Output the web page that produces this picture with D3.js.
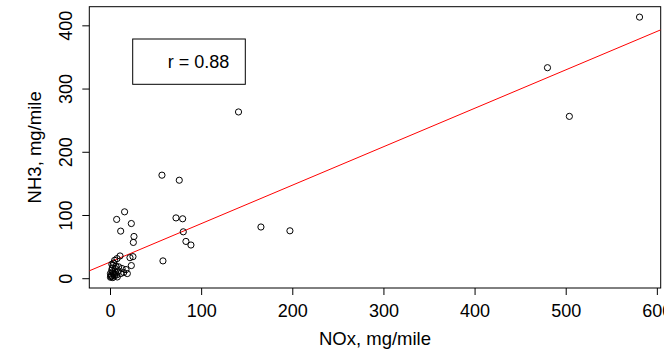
<!DOCTYPE html>
<html>
<head>
<meta charset="utf-8">
<script src="https://cdn.jsdelivr.net/npm/d3@7"></script>
<style>
  body { margin: 0; background: #fff; }
  text { font-family: "Liberation Sans", Arial, sans-serif; fill: #000; }
</style>
</head>
<body>
<div id="chart"></div>
<script>
// NOx vs NH3 (mg/mile)
var noxValues = [581, 480, 504, 141, 57, 76,
    16, 7.3, 23.4, 11.7, 26.3, 25.6,
    72.4, 79.7, 80.4, 83.3, 88.8,
    165.6, 197.4, 58.1,
    21.9, 25.2, 11, 7.7, 5.1, 23.4, 17.5, 13.2, 9.5, 15, 19, 11.7,
    3.3, 5.8, 1.9, 3.7, 2, 7.4, 9.2, 1.2, 4.8, 0.5, 3, 6, 2.5, 4, 1, 6.5, 8, 0.5, 3, 5, 2];
var nh3Values = [413, 333, 256, 263, 163, 155,
    105, 93, 86.5, 74.5, 66, 56.6,
    95.4, 94, 73.4, 58.2, 52.5,
    81, 75, 27.4,
    32.5, 34.1, 35.2, 31, 28.3, 20, 13.7, 15.3, 18, 9, 7.4, 7.4,
    20.4, 15.2, 12.6, 7.4, 3.7, 5.3, 11.6, 2.5, 3.5, 7.4, 10, 9, 16, 24, 5, 19, 2, 1.5, 1, 6, 22];
var xTicks = [0, 100, 200, 300, 400, 500, 600];
var yTicks = [0, 100, 200, 300, 400];
// fitted line
var fitIntercept = 25.5;
var fitSlope = 0.608;
var rLabel = "r = 0.88";

var width = 664, height = 352;
var margin = {left: 89.3, right: 3.3, top: 6.7, bottom: 64};

var svg = d3.select("#chart").append("svg")
    .attr("width", width)
    .attr("height", height);

svg.append("rect").attr("width", width).attr("height", height).attr("fill", "#fff");

// R style 4% padding round the data range
function padded(vals) {
    var ext = d3.extent(vals);
    var e = (ext[1] - ext[0]) * 0.04;
    return [ext[0] - e, ext[1] + e];
}

var x = d3.scaleLinear().domain(padded(noxValues)).range([margin.left, width - margin.right]);
var y = d3.scaleLinear().domain(padded(nh3Values)).range([height - margin.bottom, margin.top]);

svg.append("clipPath").attr("id", "plotClip")
    .append("rect")
    .attr("x", margin.left).attr("y", margin.top)
    .attr("width", width - margin.right - margin.left)
    .attr("height", height - margin.bottom - margin.top);

// axes
var xAxis = svg.append("g")
    .attr("transform", "translate(0," + (height - margin.bottom) + ")")
    .call(d3.axisBottom(x).tickValues(xTicks).tickSize(7).tickPadding(6).tickFormat(d3.format("d")));
var yAxis = svg.append("g")
    .attr("transform", "translate(" + margin.left + ",0)")
    .call(d3.axisLeft(y).tickValues(yTicks).tickSize(7).tickFormat(d3.format("d")));

xAxis.select(".domain").remove();
yAxis.select(".domain").remove();
xAxis.selectAll("text").attr("font-size", 18).attr("dy", null).attr("y", 28.5)
    .style("font-family", "Liberation Sans, Arial, sans-serif");
yAxis.selectAll("text")
    .attr("font-size", 18)
    .attr("x", null).attr("dy", null)
    .attr("text-anchor", "middle")
    .attr("transform", "translate(-17.6,0) rotate(-90)")
    .style("font-family", "Liberation Sans, Arial, sans-serif");
svg.selectAll(".tick line").attr("stroke", "#000");

// box
svg.append("rect")
    .attr("x", margin.left).attr("y", margin.top)
    .attr("width", width - margin.right - margin.left)
    .attr("height", height - margin.bottom - margin.top)
    .attr("fill", "none").attr("stroke", "#000").attr("stroke-width", 1);

// regression line
var xd = x.domain();
svg.append("line")
    .attr("clip-path", "url(#plotClip)")
    .attr("x1", x(xd[0])).attr("y1", y(fitIntercept + fitSlope * xd[0]))
    .attr("x2", x(xd[1])).attr("y2", y(fitIntercept + fitSlope * xd[1]))
    .attr("stroke", "#ff0000").attr("stroke-width", 1);

// points
var pts = noxValues.map(function (d, i) { return {nox: d, nh3: nh3Values[i]}; });
svg.selectAll(".pt")
    .data(pts)
    .enter().append("circle")
    .attr("class", "pt")
    .attr("cx", function (d) { return x(d.nox); })
    .attr("cy", function (d) { return y(d.nh3); })
    .attr("r", 3.1)
    .attr("fill", "none")
    .attr("stroke", "#000")
    .attr("stroke-width", 1);

// legend
svg.append("rect")
    .attr("x", 132.7).attr("y", 39)
    .attr("width", 112.6).attr("height", 45.3)
    .attr("fill", "#fff").attr("stroke", "#000");
svg.append("text")
    .attr("x", 167.7).attr("y", 68)
    .attr("font-size", 18)
    .text(rLabel);

// axis titles
svg.append("text")
    .attr("x", (margin.left + width - margin.right) / 2)
    .attr("y", 345)
    .attr("text-anchor", "middle")
    .attr("font-size", 18.5)
    .text("NOx, mg/mile");
svg.append("text")
    .attr("transform", "translate(41," + ((margin.top + height - margin.bottom) / 2) + ") rotate(-90)")
    .attr("text-anchor", "middle")
    .attr("font-size", 18.5)
    .text("NH3, mg/mile");
</script>
</body>
</html>
